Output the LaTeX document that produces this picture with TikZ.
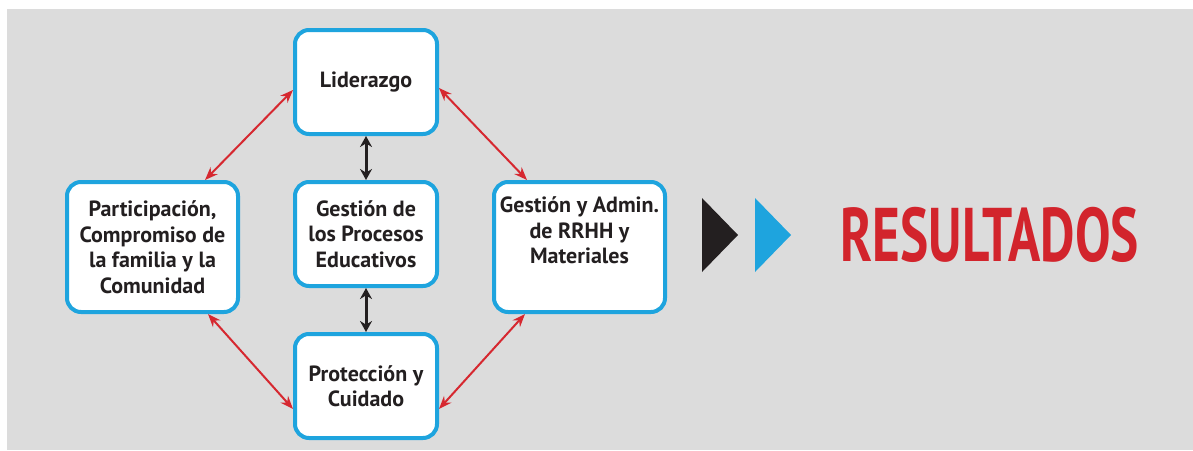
\documentclass[tikz,border=0pt]{standalone}
\usepackage{fontspec}
\setmainfont{PT Sans}
\newfontfamily\bigfont{PT Sans}[FakeStretch=0.70]
\usetikzlibrary{shapes,arrows.meta,positioning}
\definecolor{bgrey}{RGB}{220,220,220}
\definecolor{boxblue}{RGB}{30,164,222}
\definecolor{linkred}{RGB}{214,40,48}
\definecolor{titlered}{RGB}{210,36,44}
\definecolor{textdark}{RGB}{35,31,32}
\tikzstyle{block} = [rectangle,draw=boxblue,line width=4pt,fill=white,
  rounded corners=14pt,minimum width=142pt,minimum height=104pt,
  align=center,inner sep=2pt,text=textdark,
  font=\fontsize{22}{25.5}\selectfont\bfseries]
\tikzstyle{bigblock} = [block,minimum width=171pt,minimum height=130pt]
\tikzstyle{link} = [draw=linkred,line width=2pt,
  {Stealth[length=13pt,width=10pt]}-{Stealth[length=13pt,width=10pt]}]
\tikzstyle{blacklink} = [draw=textdark,line width=3pt,
  {Stealth[length=11pt,width=12pt]}-{Stealth[length=11pt,width=12pt]}]

\begin{document}
\begin{tikzpicture}[x=1pt,y=-1pt]

\useasboundingbox (0,0) rectangle (1193,450);
\fill[white] (0,0) rectangle (1193,450);
\fill[bgrey] (7,9) rectangle (1193,450);

\node [block] (lider) at (366,82) {Liderazgo};
\node [block, below=44pt of lider] (procesos) {Gestión de\\los Procesos\\Educativos};
\node [block, below=44pt of procesos] (proteccion) {Protección y\\Cuidado};

\node [bigblock, left=53pt of procesos.north west, anchor=north east] (familia)
  {Participación,\\Compromiso de\\la familia y la\\Comunidad};
\node [bigblock, right=53pt of procesos.north east, anchor=north west] (admin)
  {Gestión y Admin.\\de RRHH y\\Materiales\\\strut};

\path [link] ([yshift=-8pt]lider.west) -- ([xshift=-35pt]familia.north east);
\path [link] ([yshift=-6pt]lider.east) -- ([xshift=35pt]admin.north west);
\path [link] ([xshift=-32pt]familia.south east) -- ([yshift=-23pt]proteccion.west);
\path [link] ([xshift=33pt]admin.south west) -- ([yshift=-23pt]proteccion.east);

\path [blacklink] (lider) -- (procesos);
\path [blacklink] (procesos) -- (proteccion);

% flechas hacia el resultado
\fill [textdark] (702,198) -- (738,235) -- (702,272) -- cycle;
\fill [boxblue] (755,198) -- (791,235) -- (755,272) -- cycle;

\node [text=titlered, font=\bigfont\fontsize{76}{76}\selectfont\bfseries] (resultados)
  at (990,235) {RESULTADOS};

\end{tikzpicture}
\end{document}
